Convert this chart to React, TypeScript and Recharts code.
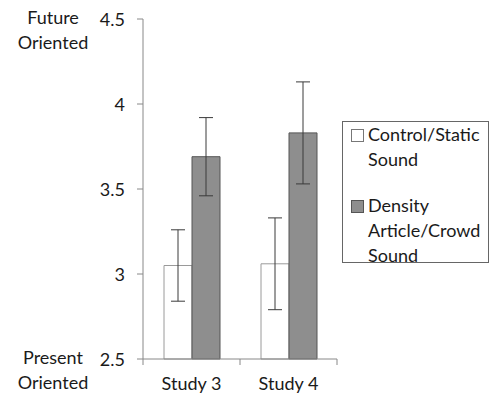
import React from 'react';
import { BarChart, Bar, XAxis, YAxis, ErrorBar, Legend } from 'recharts';

const categories = ['Study 3', 'Study 4'];
const controlValues = [3.05, 3.06];
const controlErrors = [0.21, 0.27];
const densityValues = [3.69, 3.83];
const densityErrors = [0.23, 0.3];
const yTicks = [2.5, 3, 3.5, 4, 4.5];
const topAxisLabel = ['Future', 'Oriented'];
const bottomAxisLabel = ['Present', 'Oriented'];
const controlLegend = ['Control/Static', 'Sound'];
const densityLegend = ['Density', 'Article/Crowd', 'Sound'];

const FONT = 'Lato, "Open Sans", sans-serif';
const FS = 18;

const chartData = categories.map((name, i) => ({
  name,
  control: controlValues[i],
  controlErr: controlErrors[i],
  density: densityValues[i],
  densityErr: densityErrors[i],
}));

const YTick = (props: any) => {
  const { x, y, payload } = props;
  const extra = payload.value === 4.5 ? topAxisLabel : payload.value === 2.5 ? bottomAxisLabel : null;
  return (
    <g>
      <text x={x} y={y} textAnchor="end" dominantBaseline="central" fontSize={FS} fill="#1a1a1a" fontFamily={FONT}>
        {payload.value}
      </text>
      {extra && (
        <text textAnchor="middle" fontSize={FS} fill="#1a1a1a" fontFamily={FONT}>
          <tspan x={53} y={y - 2} dominantBaseline="central">{extra[0]}</tspan>
          <tspan x={53} y={y + 23} dominantBaseline="central">{extra[1]}</tspan>
        </text>
      )}
    </g>
  );
};

const XTick = (props: any) => {
  const { x, y, payload, index } = props;
  const half = payload.offset || 48.5;
  return (
    <g>
      <text x={x} y={y + 24} textAnchor="middle" dominantBaseline="central" fontSize={FS} fill="#1a1a1a" fontFamily={FONT}>
        {payload.value}
      </text>
      {index === 0 && <line x1={x - half} x2={x - half} y1={y} y2={y + 6} stroke="#888" />}
      <line x1={x + half} x2={x + half} y1={y} y2={y + 6} stroke="#888" />
    </g>
  );
};

const LegendBox = () => {
  const item = (lines: string[], fill: string, stroke: string, mb: number) => (
    <div style={{ position: 'relative', paddingLeft: 25, marginBottom: mb }}>
      <div
        style={{
          position: 'absolute',
          left: 8,
          top: 7,
          width: 11,
          height: 11,
          background: fill,
          border: `1px solid ${stroke}`,
        }}
      />
      {lines.map((l) => (
        <div key={l} style={{ height: 25, lineHeight: '25px', whiteSpace: 'nowrap' }}>{l}</div>
      ))}
    </div>
  );
  return (
    <div
      style={{
        width: 147,
        height: 142,
        boxSizing: 'border-box',
        border: '1px solid #666',
        fontFamily: FONT,
        fontSize: FS,
        color: '#1a1a1a',
        textAlign: 'left',
        background: '#fff',
      }}
    >
      {item(controlLegend, '#fff', '#777', 21)}
      {item(densityLegend, '#8e8e8e', '#555', 0)}
    </div>
  );
};

export default function App() {
  return (
    <div style={{ position: 'absolute', left: 0, top: 0, width: 492, height: 398, background: '#fff' }}>
      <BarChart
        width={492}
        height={398}
        data={chartData}
        margin={{ top: 19, right: 155, bottom: 0, left: 0 }}
        barGap={0}
        barSize={28}
      >
        <XAxis
          dataKey="name"
          stroke="#888"
          tickLine={false}
          tickSize={0}
          tickMargin={0}
          tick={<XTick />}
          height={39}
        />
        <YAxis
          domain={[2.5, 4.5]}
          ticks={yTicks}
          width={143}
          stroke="#888"
          tickSize={6}
          tickMargin={12}
          tick={<YTick />}
          interval={0}
        />
        <Legend
          layout="vertical"
          align="center"
          verticalAlign="middle"
          wrapperStyle={{ left: 342, top: 121, width: 147, height: 142 }}
          content={<LegendBox />}
        />
        <Bar dataKey="control" name="Control/Static Sound" fill="#ffffff" stroke="#9a9a9a" isAnimationActive={false}>
          <ErrorBar dataKey="controlErr" width={7} stroke="#3a3a3a" strokeWidth={1} />
        </Bar>
        <Bar dataKey="density" name="Density Article/Crowd Sound" fill="#8e8e8e" stroke="#555" isAnimationActive={false}>
          <ErrorBar dataKey="densityErr" width={7} stroke="#3a3a3a" strokeWidth={1} />
        </Bar>
      </BarChart>
    </div>
  );
}
